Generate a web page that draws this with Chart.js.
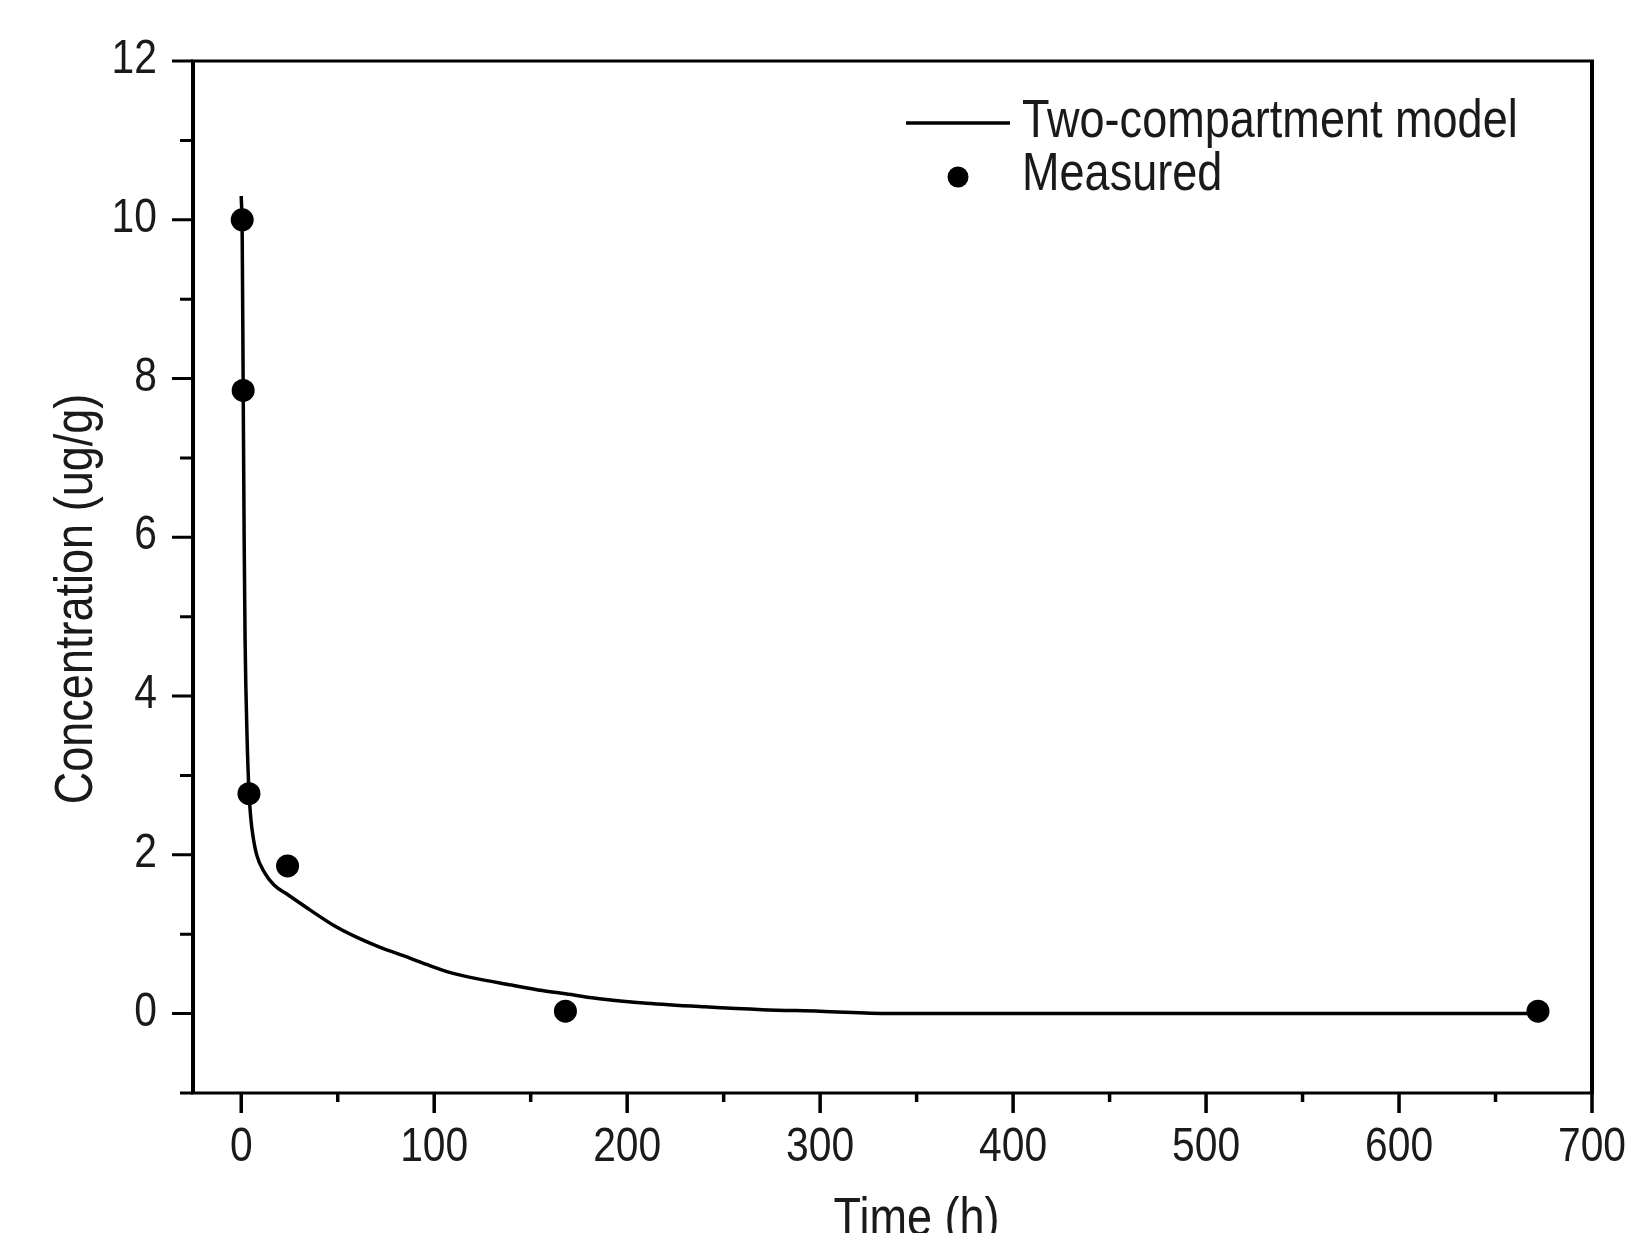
<!DOCTYPE html>
<html>
<head>
<meta charset="utf-8">
<script src="https://cdn.jsdelivr.net/npm/chart.js@4.4.1/dist/chart.umd.min.js"></script>
<style>
  html, body { margin: 0; padding: 0; background: #fff; }
</style>
</head>
<body>
<canvas id="conc" width="1636" height="1233"></canvas>
<script>
  // measured points
  const measuredTime = [0.5, 1, 4, 24, 168, 672];
  const measuredConc = [10.0, 7.85, 2.77, 1.86, 0.03, 0.03];

  // two-compartment model curve
  const modelTime = [0, 0.5, 1, 1.5, 2, 3, 4, 5, 6, 8, 12, 17, 24, 36, 48, 60, 72, 84, 96, 108, 120, 140, 156, 168, 188, 210, 240, 270, 300, 336, 672];
  const modelConc = [10.3, 9.8, 7.9, 6.0, 4.7, 3.5, 2.8, 2.45, 2.25, 2.0, 1.78, 1.62, 1.5, 1.3, 1.11, 0.96, 0.835, 0.73, 0.62, 0.52, 0.45, 0.36, 0.29, 0.25, 0.18, 0.13, 0.085, 0.05, 0.03, 0.0, 0.0];

  const xMajor = [0, 100, 200, 300, 400, 500, 600, 700];
  const xMinor = [50, 150, 250, 350, 450, 550, 650];
  const yMajor = [0, 2, 4, 6, 8, 10, 12];
  const yMinor = [-1, 1, 3, 5, 7, 9, 11];

  const FONT = "'Liberation Sans', Arial, sans-serif";
  const TXT = '#1a1a1a';
  const SQUEEZE = 0.85; // narrow look of the original lettering

  function narrowText(ctx, text, x, y, size, align, rot) {
    ctx.save();
    ctx.translate(x, y);
    if (rot) ctx.rotate(rot);
    ctx.scale(SQUEEZE, 1);
    ctx.font = size + 'px ' + FONT;
    ctx.textAlign = align;
    ctx.textBaseline = 'alphabetic';
    ctx.fillStyle = TXT;
    ctx.fillText(text, 0, 0);
    ctx.restore();
  }

  const frame = {
    id: 'frame',
    afterDraw(chart) {
      const { ctx, chartArea: a, scales: { x, y } } = chart;
      ctx.save();
      ctx.strokeStyle = '#000';
      ctx.lineCap = 'butt';

      // box: horizontal edges a bit thinner than vertical ones, like the original
      ctx.lineWidth = 3;
      ctx.beginPath();
      ctx.moveTo(a.left - 2, a.top); ctx.lineTo(a.right + 2, a.top);
      ctx.moveTo(a.left - 2, a.bottom); ctx.lineTo(a.right + 2, a.bottom);
      ctx.stroke();
      ctx.lineWidth = 4;
      ctx.beginPath();
      ctx.moveTo(a.left, a.top); ctx.lineTo(a.left, a.bottom);
      ctx.moveTo(a.right, a.top); ctx.lineTo(a.right, a.bottom);
      ctx.stroke();

      ctx.lineWidth = 3.5;
      ctx.beginPath();
      xMajor.forEach(v => { const p = x.getPixelForValue(v); ctx.moveTo(p, a.bottom); ctx.lineTo(p, a.bottom + 20); });
      xMinor.forEach(v => { const p = x.getPixelForValue(v); ctx.moveTo(p, a.bottom); ctx.lineTo(p, a.bottom + 9); });
      ctx.stroke();
      ctx.lineWidth = 3;
      ctx.beginPath();
      yMajor.forEach(v => { const p = y.getPixelForValue(v); ctx.moveTo(a.left, p); ctx.lineTo(a.left - 21, p); });
      yMinor.forEach(v => { const p = y.getPixelForValue(v); ctx.moveTo(a.left, p); ctx.lineTo(a.left - 13, p); });
      ctx.stroke();

      // tick labels
      xMajor.forEach(v => narrowText(ctx, String(v), x.getPixelForValue(v), a.bottom + 68, 48, 'center'));
      yMajor.forEach(v => narrowText(ctx, String(v), a.left - 36, y.getPixelForValue(v) + 12, 48, 'right'));

      // axis titles
      narrowText(ctx, 'Time (h)', x.getPixelForValue(350), 1235, 53, 'center');
      narrowText(ctx, 'Concentration (ug/g)', 92, 599, 53, 'center', -Math.PI / 2);

      // legend
      ctx.lineWidth = 3.5;
      ctx.beginPath();
      ctx.moveTo(906, 123);
      ctx.lineTo(1010, 123);
      ctx.stroke();
      ctx.beginPath();
      ctx.arc(958, 177, 10.5, 0, Math.PI * 2);
      ctx.fillStyle = '#000';
      ctx.fill();
      narrowText(ctx, 'Two-compartment model', 1022, 137, 53, 'left');
      narrowText(ctx, 'Measured', 1022, 190, 53, 'left');
      ctx.restore();
    }
  };

  new Chart(document.getElementById('conc'), {
    type: 'scatter',
    data: {
      datasets: [
        {
          label: 'Measured',
          data: measuredTime.map((t, i) => ({ x: t, y: measuredConc[i] })),
          backgroundColor: '#000',
          borderWidth: 0,
          pointRadius: 11.5,
          pointHoverRadius: 11.5,
          showLine: false
        },
        {
          label: 'Two-compartment model',
          data: modelTime.map((t, i) => ({ x: t, y: modelConc[i] })),
          borderColor: '#000',
          borderWidth: 3.5,
          pointRadius: 0,
          showLine: true,
          cubicInterpolationMode: 'monotone',
          fill: false
        }
      ]
    },
    options: {
      responsive: false,
      animation: false,
      layout: { padding: { top: 61, right: 44, left: 0, bottom: 0 } },
      plugins: { legend: { display: false }, tooltip: { enabled: false } },
      scales: {
        x: {
          type: 'linear',
          min: -25,
          max: 700,
          afterBuildTicks: s => { s.ticks = xMajor.map(v => ({ value: v })); },
          afterFit: s => { s.height = 140; s.paddingLeft = 0; s.paddingRight = 0; },
          grid: { display: false, drawTicks: false },
          border: { display: false },
          ticks: { display: false }
        },
        y: {
          type: 'linear',
          min: -1,
          max: 12,
          afterBuildTicks: s => { s.ticks = yMajor.map(v => ({ value: v })); },
          afterFit: s => { s.width = 193; s.paddingTop = 0; s.paddingBottom = 0; },
          grid: { display: false, drawTicks: false },
          border: { display: false },
          ticks: { display: false }
        }
      }
    },
    plugins: [frame]
  });
</script>
</body>
</html>
